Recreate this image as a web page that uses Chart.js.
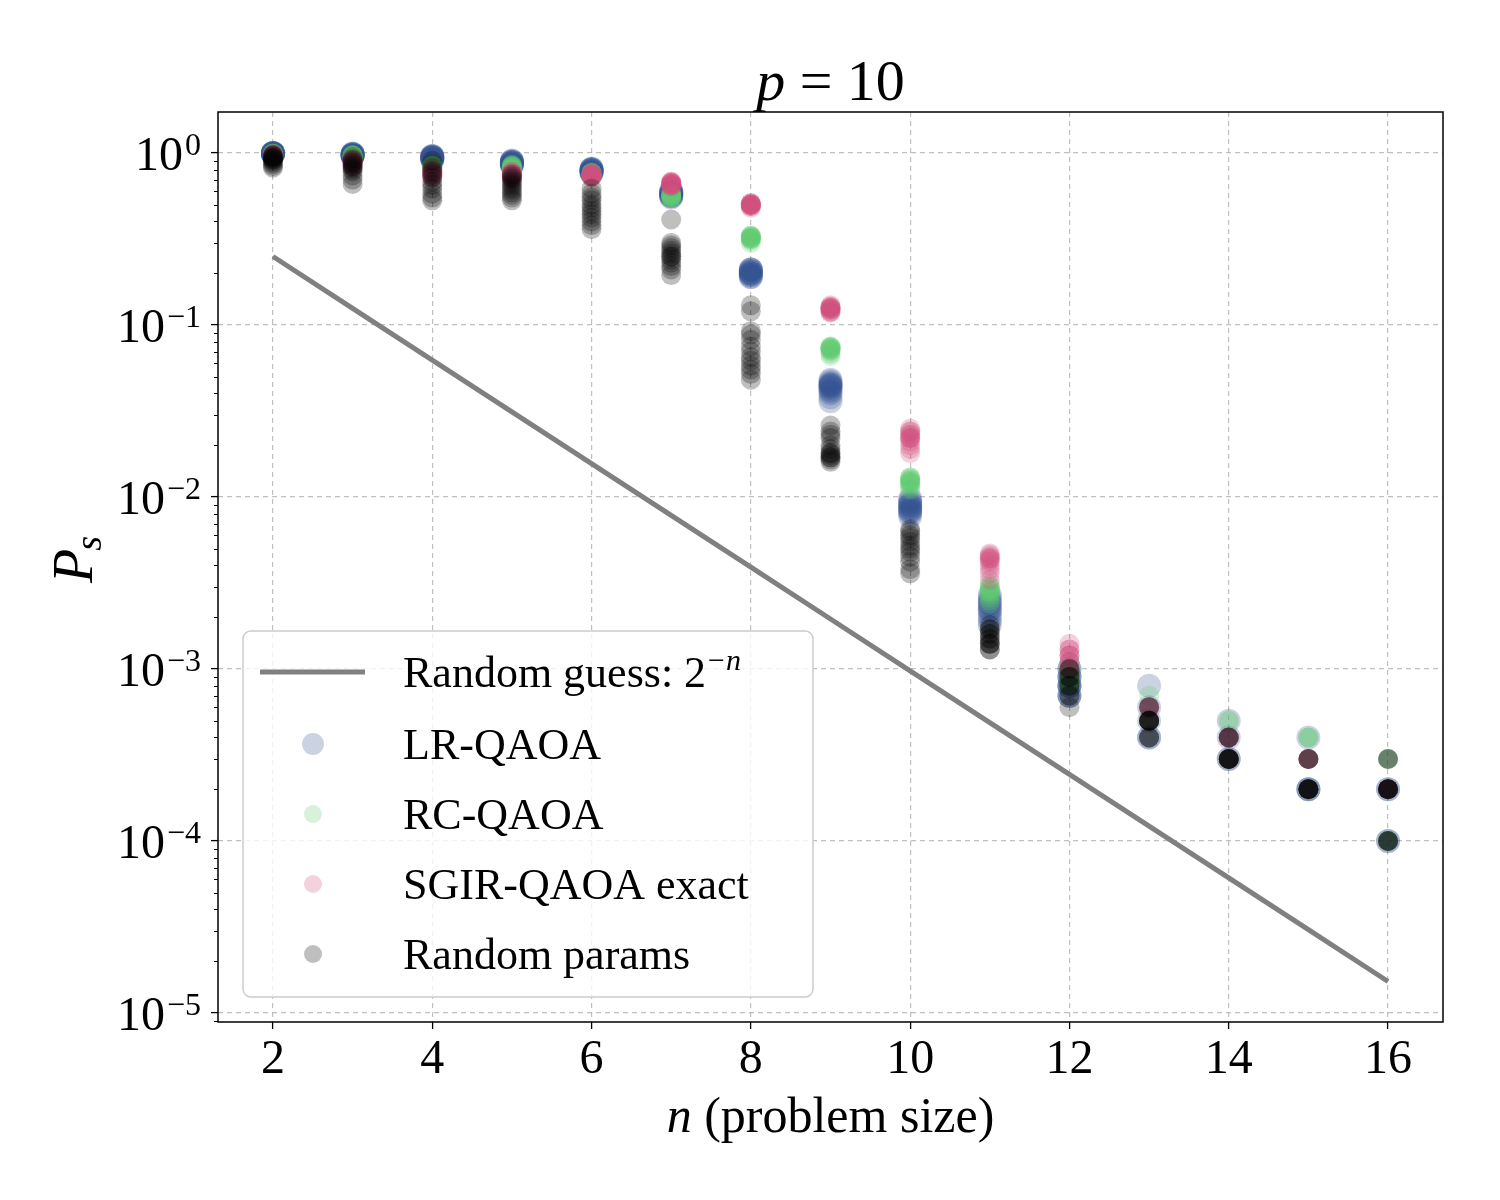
<!DOCTYPE html>
<html>
<head>
<meta charset="utf-8">
<title>p = 10</title>
<script src="https://cdn.jsdelivr.net/npm/chart.js@4.4.1/dist/chart.umd.min.js"></script>
<style>
    html, body { margin: 0; padding: 0; background: #ffffff; }
    canvas { display: block; }
</style>
</head>
<body>
<canvas id="psChart" width="1500" height="1200"></canvas>
<script>
// Problem sizes and axis ticks
const nValues = [2, 3, 4, 5, 6, 7, 8, 9, 10, 11, 12, 13, 14, 15, 16];
const xTickValues = [2, 4, 6, 8, 10, 12, 14, 16];
const yTickValues = [1e-5, 1e-4, 1e-3, 1e-2, 1e-1, 1];

// Random guess 2^-n, one value per n
const randomGuess = [0.25, 0.125, 0.0625, 0.03125, 0.015625, 0.0078125, 0.00390625,
    0.001953125, 0.0009765625, 0.00048828125, 0.000244140625, 0.0001220703125,
    0.00006103515625, 0.000030517578125, 0.0000152587890625];

// P_s per instance, one list per n (same order as nValues)
const lrQaoa = [
    [1.0, 1.0, 1.0, 1.0, 1.0, 1.0, 0.99, 0.99, 0.99, 0.99, 0.98, 0.98],
    [0.99, 0.99, 0.99, 0.98, 0.98, 0.98, 0.97, 0.97, 0.97, 0.96, 0.96, 0.96],
    [0.96, 0.96, 0.95, 0.95, 0.95, 0.94, 0.94, 0.93, 0.93, 0.92, 0.92, 0.91],
    [0.90, 0.90, 0.89, 0.89, 0.88, 0.88, 0.87, 0.87, 0.86, 0.86, 0.85, 0.85],
    [0.81, 0.81, 0.80, 0.80, 0.80, 0.79, 0.79, 0.78, 0.78, 0.77, 0.77, 0.76],
    [0.60, 0.60, 0.59, 0.59, 0.58, 0.58, 0.58, 0.57, 0.57, 0.56, 0.56, 0.55],
    [0.21, 0.21, 0.21, 0.205, 0.205, 0.20, 0.20, 0.20, 0.195, 0.195, 0.19, 0.19],
    [0.048, 0.047, 0.046, 0.045, 0.045, 0.044, 0.044, 0.043, 0.042, 0.041, 0.040, 0.038, 0.036],
    [0.0098, 0.0095, 0.0093, 0.009, 0.009, 0.0088, 0.0086, 0.0085, 0.0083, 0.0082, 0.008, 0.0077],
    [0.0027, 0.0026, 0.0025, 0.0024, 0.0024, 0.0023, 0.0022, 0.0022, 0.0021, 0.002, 0.0019, 0.0018],
    [0.001, 0.001, 0.0009, 0.0009, 0.0009, 0.0008, 0.0008, 0.0008, 0.0008, 0.0007, 0.0007, 0.0007],
    [0.0008, 0.0006, 0.0005, 0.0004, 0.0004],
    [0.0005, 0.0004, 0.0003, 0.0003],
    [0.0004, 0.0002, 0.0002, 0.0002],
    [0.0002, 0.0002, 0.0001, 0.0001]
];

const rcQaoa = [
    [0.99, 0.99, 0.99, 0.99, 0.99, 0.98, 0.98, 0.98, 0.98, 0.98],
    [0.97, 0.97, 0.97, 0.96, 0.96, 0.96, 0.95, 0.95, 0.95, 0.94, 0.94],
    [0.85, 0.85, 0.84, 0.84, 0.83, 0.83, 0.83, 0.82, 0.82, 0.81, 0.81, 0.80],
    [0.85, 0.85, 0.84, 0.84, 0.83, 0.83, 0.82, 0.82, 0.81, 0.81, 0.80, 0.80],
    [0.77, 0.77, 0.76, 0.76, 0.76, 0.75, 0.75, 0.75, 0.74, 0.74, 0.73, 0.73],
    [0.58, 0.58, 0.57, 0.57, 0.57, 0.56, 0.56, 0.56, 0.55, 0.55, 0.55, 0.55],
    [0.33, 0.33, 0.33, 0.325, 0.325, 0.32, 0.32, 0.32, 0.315, 0.315, 0.31, 0.30],
    [0.075, 0.075, 0.074, 0.074, 0.073, 0.073, 0.072, 0.072, 0.071, 0.070, 0.068, 0.066],
    [0.013, 0.013, 0.0128, 0.0126, 0.0125, 0.0123, 0.0122, 0.012, 0.012, 0.0117, 0.0113, 0.011],
    [0.0031, 0.003, 0.003, 0.0029, 0.0029, 0.0028, 0.0028, 0.0027, 0.0026, 0.0025, 0.0024],
    [0.0011, 0.001, 0.001, 0.001, 0.0009, 0.0009, 0.0009, 0.0008, 0.0008, 0.0008],
    [0.0007, 0.0005],
    [0.0005, 0.0005, 0.0003],
    [0.0004, 0.0004, 0.0004, 0.0002],
    [0.0003, 0.0003, 0.0001, 0.0001]
];

const sgirExact = [
    [0.98, 0.98, 0.97, 0.97, 0.96, 0.96],
    [0.92, 0.91, 0.90, 0.89, 0.88, 0.87, 0.86, 0.85, 0.84, 0.83],
    [0.80, 0.79, 0.78, 0.77, 0.77, 0.76, 0.75, 0.74, 0.73, 0.72],
    [0.78, 0.77, 0.77, 0.76, 0.75, 0.75, 0.74, 0.73, 0.72, 0.71],
    [0.76, 0.76, 0.75, 0.75, 0.75, 0.74, 0.74, 0.74, 0.73, 0.73, 0.72],
    [0.68, 0.68, 0.67, 0.67, 0.67, 0.66, 0.66, 0.66, 0.65, 0.65, 0.64, 0.64],
    [0.51, 0.51, 0.51, 0.50, 0.50, 0.50, 0.50, 0.50, 0.50, 0.49, 0.49, 0.48],
    [0.13, 0.128, 0.127, 0.126, 0.125, 0.125, 0.124, 0.123, 0.122, 0.12, 0.119, 0.118],
    [0.025, 0.024, 0.024, 0.023, 0.023, 0.022, 0.022, 0.022, 0.021, 0.02, 0.019, 0.018],
    [0.0047, 0.0046, 0.0045, 0.0044, 0.0044, 0.0043, 0.0042, 0.004, 0.0038, 0.0036, 0.0033],
    [0.0014, 0.0013, 0.0013, 0.0012, 0.0012, 0.0012, 0.0011, 0.0011, 0.001, 0.001],
    [0.0006, 0.0006, 0.0006, 0.0005],
    [0.0004, 0.0004, 0.0004, 0.0003],
    [0.0003, 0.0003, 0.0003, 0.0002],
    [0.0002, 0.0002]
];

const randomParams = [
    [0.98, 0.97, 0.96, 0.95, 0.94, 0.93, 0.92, 0.91, 0.90, 0.88, 0.86, 0.84, 0.82],
    [0.95, 0.92, 0.90, 0.88, 0.86, 0.84, 0.82, 0.80, 0.78, 0.74, 0.70, 0.66],
    [0.90, 0.86, 0.82, 0.78, 0.75, 0.72, 0.68, 0.65, 0.62, 0.58, 0.55, 0.53],
    [0.75, 0.73, 0.71, 0.69, 0.67, 0.65, 0.63, 0.61, 0.59, 0.57, 0.55, 0.53],
    [0.62, 0.58, 0.55, 0.53, 0.50, 0.48, 0.46, 0.44, 0.42, 0.40, 0.38, 0.36],
    [0.41, 0.30, 0.29, 0.28, 0.27, 0.26, 0.25, 0.25, 0.24, 0.23, 0.22, 0.21, 0.195],
    [0.13, 0.12, 0.092, 0.088, 0.082, 0.075, 0.07, 0.065, 0.062, 0.058, 0.055, 0.052, 0.048],
    [0.026, 0.024, 0.023, 0.022, 0.020, 0.019, 0.018, 0.018, 0.0175, 0.017, 0.017, 0.0165, 0.016],
    [0.0065, 0.0063, 0.006, 0.0058, 0.0055, 0.0052, 0.005, 0.0048, 0.0045, 0.0042, 0.0038, 0.0036],
    [0.0018, 0.0017, 0.0017, 0.0016, 0.0016, 0.0015, 0.0015, 0.0014, 0.0014, 0.0014, 0.0013, 0.0013],
    [0.001, 0.001, 0.0009, 0.0009, 0.0009, 0.0008, 0.0008, 0.0008, 0.0007, 0.0007, 0.0006],
    [0.0006, 0.0006, 0.0005, 0.0005, 0.0005, 0.0005, 0.0005, 0.0005, 0.0004, 0.0004, 0.0004],
    [0.0004, 0.0004, 0.0004, 0.0003, 0.0003, 0.0003, 0.0003, 0.0003, 0.0003, 0.0003],
    [0.0003, 0.0003, 0.0003, 0.0002, 0.0002, 0.0002, 0.0002, 0.0002, 0.0002, 0.0002],
    [0.0003, 0.0003, 0.0002, 0.0002, 0.0002, 0.0002, 0.0002, 0.0002, 0.0002, 0.0001, 0.0001, 0.0001, 0.0001]
];

const seriesLabels = ['LR-QAOA', 'RC-QAOA', 'SGIR-QAOA exact', 'Random params'];
const seriesColors = ['rgba(48, 78, 145, 0.25)', 'rgba(95, 205, 110, 0.25)',
    'rgba(208, 75, 122, 0.25)', 'rgba(0, 0, 0, 0.25)'];
const seriesRadius = [12, 10, 10, 10];

const SERIF = '"Liberation Serif", "DejaVu Serif", serif';

/**
 * Flattens per-n instance lists into scatter points.
 * @param {number[][]} perN - values grouped by problem size.
 */
function toPoints(perN) {
    const pts = [];
    perN.forEach((vals, i) => {
        vals.forEach(v => pts.push({ x: nValues[i], y: v }));
    });
    return pts;
}

/**
 * Draws text with a raised (or lowered) small part after it, returns end x.
 */
function drawWithScript(ctx, base, baseFont, script, scriptFont, x, y, shift) {
    ctx.font = baseFont;
    ctx.fillText(base, x, y);
    const w = ctx.measureText(base).width;
    ctx.font = scriptFont;
    ctx.fillText(script, x + w + 2, y + shift);
    return x + w + 2 + ctx.measureText(script).width;
}

/**
 * Plugin that draws frame, tick labels, minor ticks, titles and legend
 * in the matplotlib/LaTeX look of the original figure.
 */
const figureDecorations = {
    id: 'figureDecorations',
    afterDraw(chart) {
        const { ctx, chartArea: a, scales: { x, y } } = chart;
        ctx.save();
        ctx.fillStyle = '#000';
        ctx.strokeStyle = '#000';

        // frame
        ctx.lineWidth = 1.5;
        ctx.strokeRect(a.left, a.top, a.right - a.left, a.bottom - a.top);

        // minor log ticks on the left
        ctx.lineWidth = 1;
        ctx.beginPath();
        for (let k = -6; k <= 0; k++) {
            for (let m = 2; m <= 9; m++) {
                const v = m * Math.pow(10, k);
                const py = y.getPixelForValue(v);
                if (py < a.top || py > a.bottom) continue;
                ctx.moveTo(a.left, Math.round(py) + 0.5);
                ctx.lineTo(a.left - 4, Math.round(py) + 0.5);
            }
        }
        ctx.stroke();

        // y tick labels: 10^k
        ctx.textAlign = 'left';
        ctx.textBaseline = 'alphabetic';
        yTickValues.forEach(v => {
            const py = y.getPixelForValue(v);
            const k = Math.round(Math.log10(v));
            const exp = k < 0 ? '\u2212' + (-k) : String(k);
            ctx.font = '48px ' + SERIF;
            const bw = ctx.measureText('10').width;
            ctx.font = '32px ' + SERIF;
            const ew = ctx.measureText(exp).width;
            const x0 = 201 - ew - 2 - bw;
            drawWithScript(ctx, '10', '48px ' + SERIF, exp, '32px ' + SERIF, x0, py + 17, -15);
        });

        // x tick labels
        ctx.textAlign = 'center';
        ctx.font = '48px ' + SERIF;
        xTickValues.forEach(v => {
            ctx.fillText(String(v), x.getPixelForValue(v), 1073);
        });

        // title p = 10
        ctx.textAlign = 'left';
        ctx.font = 'italic 58px ' + SERIF;
        const pw = ctx.measureText('p').width;
        ctx.font = '58px ' + SERIF;
        const rw = ctx.measureText(' = 10').width;
        const tx = (a.left + a.right) / 2 - (pw + rw) / 2;
        ctx.font = 'italic 58px ' + SERIF;
        ctx.fillText('p', tx, 100);
        ctx.font = '58px ' + SERIF;
        ctx.fillText(' = 10', tx + pw, 100);

        // x axis title
        ctx.font = 'italic 50px ' + SERIF;
        const nw = ctx.measureText('n').width;
        ctx.font = '50px ' + SERIF;
        const lw = ctx.measureText(' (problem size)').width;
        const lx = (a.left + a.right) / 2 - (nw + lw) / 2;
        ctx.font = 'italic 50px ' + SERIF;
        ctx.fillText('n', lx, 1132);
        ctx.font = '50px ' + SERIF;
        ctx.fillText(' (problem size)', lx + nw, 1132);

        // y axis title P_s
        ctx.save();
        ctx.translate(92, 565);
        ctx.rotate(-Math.PI / 2);
        ctx.textAlign = 'left';
        ctx.font = 'italic 56px ' + SERIF;
        ctx.fillText('P', -18, 0);
        const Pw = ctx.measureText('P').width;
        ctx.font = 'italic 38px ' + SERIF;
        ctx.fillText('s', -18 + Pw - 2, 9);
        ctx.restore();

        drawLegend(ctx);
        ctx.restore();
    }
};

/**
 * Legend box placed inside the plot area (lower left).
 */
function drawLegend(ctx) {
    const bx = 243, by = 631, bw = 570, bh = 366, r = 8;
    ctx.save();
    ctx.beginPath();
    ctx.moveTo(bx + r, by);
    ctx.arcTo(bx + bw, by, bx + bw, by + bh, r);
    ctx.arcTo(bx + bw, by + bh, bx, by + bh, r);
    ctx.arcTo(bx, by + bh, bx, by, r);
    ctx.arcTo(bx, by, bx + bw, by, r);
    ctx.closePath();
    ctx.fillStyle = 'rgba(255, 255, 255, 0.8)';
    ctx.fill();
    ctx.strokeStyle = '#cccccc';
    ctx.lineWidth = 1.5;
    ctx.stroke();

    const rowsY = [672, 744, 814, 884, 954];
    const textX = 403;

    // line entry
    ctx.strokeStyle = 'rgb(128, 128, 128)';
    ctx.lineWidth = 5;
    ctx.beginPath();
    ctx.moveTo(260, rowsY[0]);
    ctx.lineTo(365, rowsY[0]);
    ctx.stroke();

    ctx.fillStyle = '#000';
    ctx.textAlign = 'left';
    ctx.textBaseline = 'alphabetic';
    const endX = drawWithScript(ctx, 'Random guess: 2', '44px ' + SERIF, '\u2212', '30px ' + SERIF,
        textX, rowsY[0] + 15, -17);
    ctx.font = 'italic 30px ' + SERIF;
    ctx.fillText('n', endX + 1, rowsY[0] - 2);

    // marker entries
    seriesLabels.forEach((label, i) => {
        const cy = rowsY[i + 1];
        ctx.beginPath();
        ctx.arc(313, cy, seriesRadius[i] - 1, 0, Math.PI * 2);
        ctx.fillStyle = seriesColors[i];
        ctx.fill();
        ctx.fillStyle = '#000';
        ctx.font = '44px ' + SERIF;
        ctx.fillText(label, textX, cy + 15);
    });
    ctx.restore();
}

/**
 * Builds the scatter chart with the random guess reference line.
 */
function createPsChart() {
    const ctx = document.getElementById('psChart').getContext('2d');
    const seriesData = [lrQaoa, rcQaoa, sgirExact, randomParams];

    const datasets = seriesData.map((perN, i) => ({
        type: 'scatter',
        label: seriesLabels[i],
        data: toPoints(perN),
        backgroundColor: seriesColors[i],
        borderColor: seriesColors[i],
        borderWidth: 0,
        pointRadius: seriesRadius[i],
        pointHoverRadius: seriesRadius[i],
        order: 5 - i
    }));

    datasets.push({
        type: 'line',
        label: 'Random guess',
        data: nValues.map((n, i) => ({ x: n, y: randomGuess[i] })),
        borderColor: 'rgb(128, 128, 128)',
        borderWidth: 5,
        pointRadius: 0,
        fill: false,
        order: 0
    });

    return new Chart(ctx, {
        type: 'scatter',
        data: { datasets: datasets },
        options: {
            responsive: false,
            animation: false,
            layout: { padding: { left: 0, top: 112, right: 57, bottom: 0 } },
            plugins: {
                legend: { display: false },
                title: { display: false },
                tooltip: { enabled: false }
            },
            scales: {
                x: {
                    type: 'linear',
                    min: 1.31,
                    max: 16.69,
                    afterBuildTicks: (s) => { s.ticks = xTickValues.map(v => ({ value: v })); },
                    afterFit: (s) => { s.height = 178; },
                    ticks: { display: false },
                    border: { display: false, dash: [5, 4] },
                    grid: {
                        color: 'rgba(176, 176, 176, 0.8)',
                        lineWidth: 1.2,
                        drawTicks: true,
                        tickLength: 7,
                        tickColor: '#000',
                        tickWidth: 1.3,
                        tickBorderDash: []
                    }
                },
                y: {
                    type: 'logarithmic',
                    min: Math.pow(10, -5.052),
                    max: Math.pow(10, 0.238),
                    afterBuildTicks: (s) => { s.ticks = yTickValues.map(v => ({ value: v, major: true })); },
                    afterFit: (s) => { s.width = 218; },
                    ticks: { display: false },
                    border: { display: false, dash: [5, 4] },
                    grid: {
                        color: 'rgba(176, 176, 176, 0.8)',
                        lineWidth: 1.2,
                        drawTicks: true,
                        tickLength: 7,
                        tickColor: '#000',
                        tickWidth: 1.3,
                        tickBorderDash: []
                    }
                }
            }
        },
        plugins: [figureDecorations]
    });
}

createPsChart();
</script>
</body>
</html>
